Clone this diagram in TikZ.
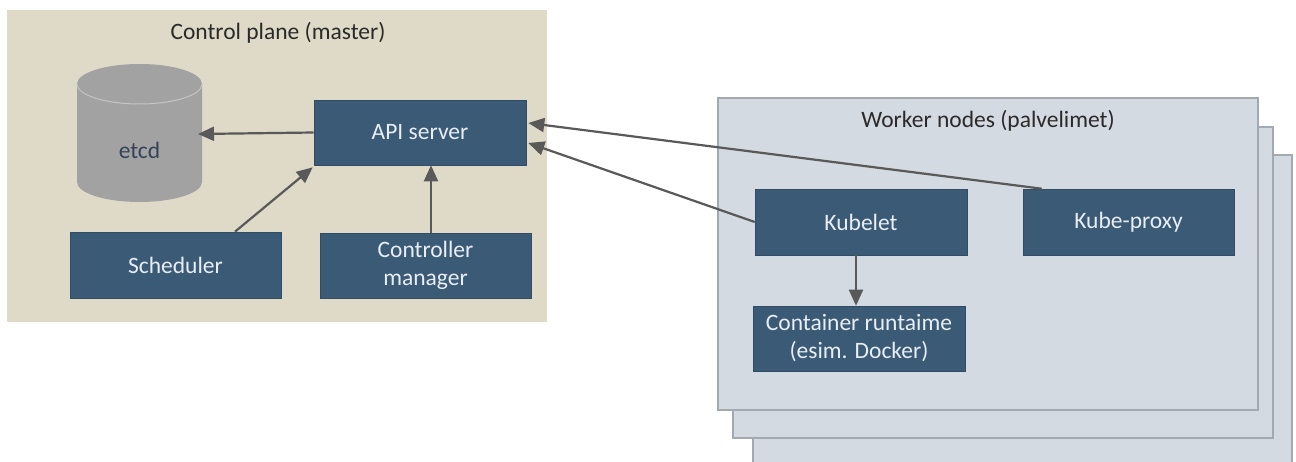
\documentclass[tikz,border=0pt]{standalone}
\usepackage{fontspec}
\setmainfont{Carlito}
\usetikzlibrary{arrows.meta,calc}
\definecolor{beige}{HTML}{DFD9C8}
\definecolor{workerfill}{HTML}{D4DAE1}
\definecolor{workerline}{HTML}{A3A9B0}
\definecolor{boxblue}{HTML}{3A5A76}
\definecolor{boxtext}{HTML}{E8EEF3}
\definecolor{arrowgray}{HTML}{595959}
\definecolor{cylgray}{HTML}{A2A2A2}
\definecolor{cyledge}{HTML}{C4C4C4}
\definecolor{titlecol}{HTML}{2A2A2A}
\definecolor{etcdtext}{HTML}{34435A}
\tikzset{
  bluebox/.style={rectangle, fill=boxblue, draw=boxblue!85!black, line width=0.6pt,
    text=boxtext, font=\fontsize{23.5}{28}\selectfont, align=center, inner sep=0pt,
    minimum width=211pt, minimum height=65pt},
  arr/.style={draw=arrowgray, line width=2.2pt, -{Triangle[length=16pt,width=14pt]}},
  worker/.style={fill=workerfill, draw=workerline, line width=1.4pt},
  titletext/.style={text=titlecol, font=\fontsize{23.5}{28}\selectfont, inner sep=0pt}
}
\begin{document}
\begin{tikzpicture}[x=1pt,y=-1pt]
\useasboundingbox (0,0) rectangle (1296,462);
\fill[white] (0,0) rectangle (1296,462);
% control plane background
\fill[beige] (7,10) rectangle (547,322);
\node[titletext] (cptitle) at (278,33) {Control plane (master)};
% worker stacks
\begin{scope}
\clip (0,0) rectangle (1296,462);
\draw[worker] (753,155) rectangle (1292,480);
\draw[worker] (733,127) rectangle (1273,438);
\draw[worker] (718,98) rectangle (1258,410);
\end{scope}
\node[titletext] (wtitle) at (988,121) {Worker nodes (palvelimet)};
% etcd cylinder
\fill[cylgray] (77,84) -- (77,182) arc[start angle=180, end angle=360, x radius=62.5, y radius=-20] -- (202,84) -- cycle;
\fill[cylgray] (139.5,84) ellipse[x radius=62.5, y radius=20];
\draw[cyledge, line width=1pt] (77,84) arc[start angle=180, end angle=360, x radius=62.5, y radius=-20];
\node[text=etcdtext, font=\fontsize{23.5}{28}\selectfont, inner sep=0pt] (etcd) at (139.5,150) {etcd};
\coordinate (etcdR) at (198,134);
% boxes
\node[bluebox, minimum width=212pt] (api) at (420,132.5) {API server};
\node[bluebox, minimum height=66pt] (sch) at (175.5,265) {Scheduler};
\node[bluebox] (ctl) at (425.5,265.5) {Controller\\manager};
\node[bluebox, minimum width=212pt, minimum height=66pt] (kl) at (861,222) {Kubelet};
\node[bluebox, minimum height=66pt] (kp) at (1128.5,222) {Kube-proxy};
\node[bluebox, minimum width=212pt] (cr) at (859,338.5) {Container runtaime\\(esim. Docker)};
% connectors
\draw[arr] (api.west) -- (etcdR);
\draw[arr] ($(sch.north)+(59.5,0)$) -- ($(api.south west)+(-1,2)$);
\draw[arr] ($(ctl.north)+(5.5,0)$) -- ($(api.south)+(11,0)$);
\draw[arr] (kl.west) -- ($(api.east)+(2,10.5)$);
\draw[arr] ($(kp.north west)+(19,0)$) -- ($(api.east)+(2,-9.5)$);
\draw[arr] ($(kl.south)+(-5,0)$) -- ($(cr.north)+(-3,0)$);
\end{tikzpicture}
\end{document}
